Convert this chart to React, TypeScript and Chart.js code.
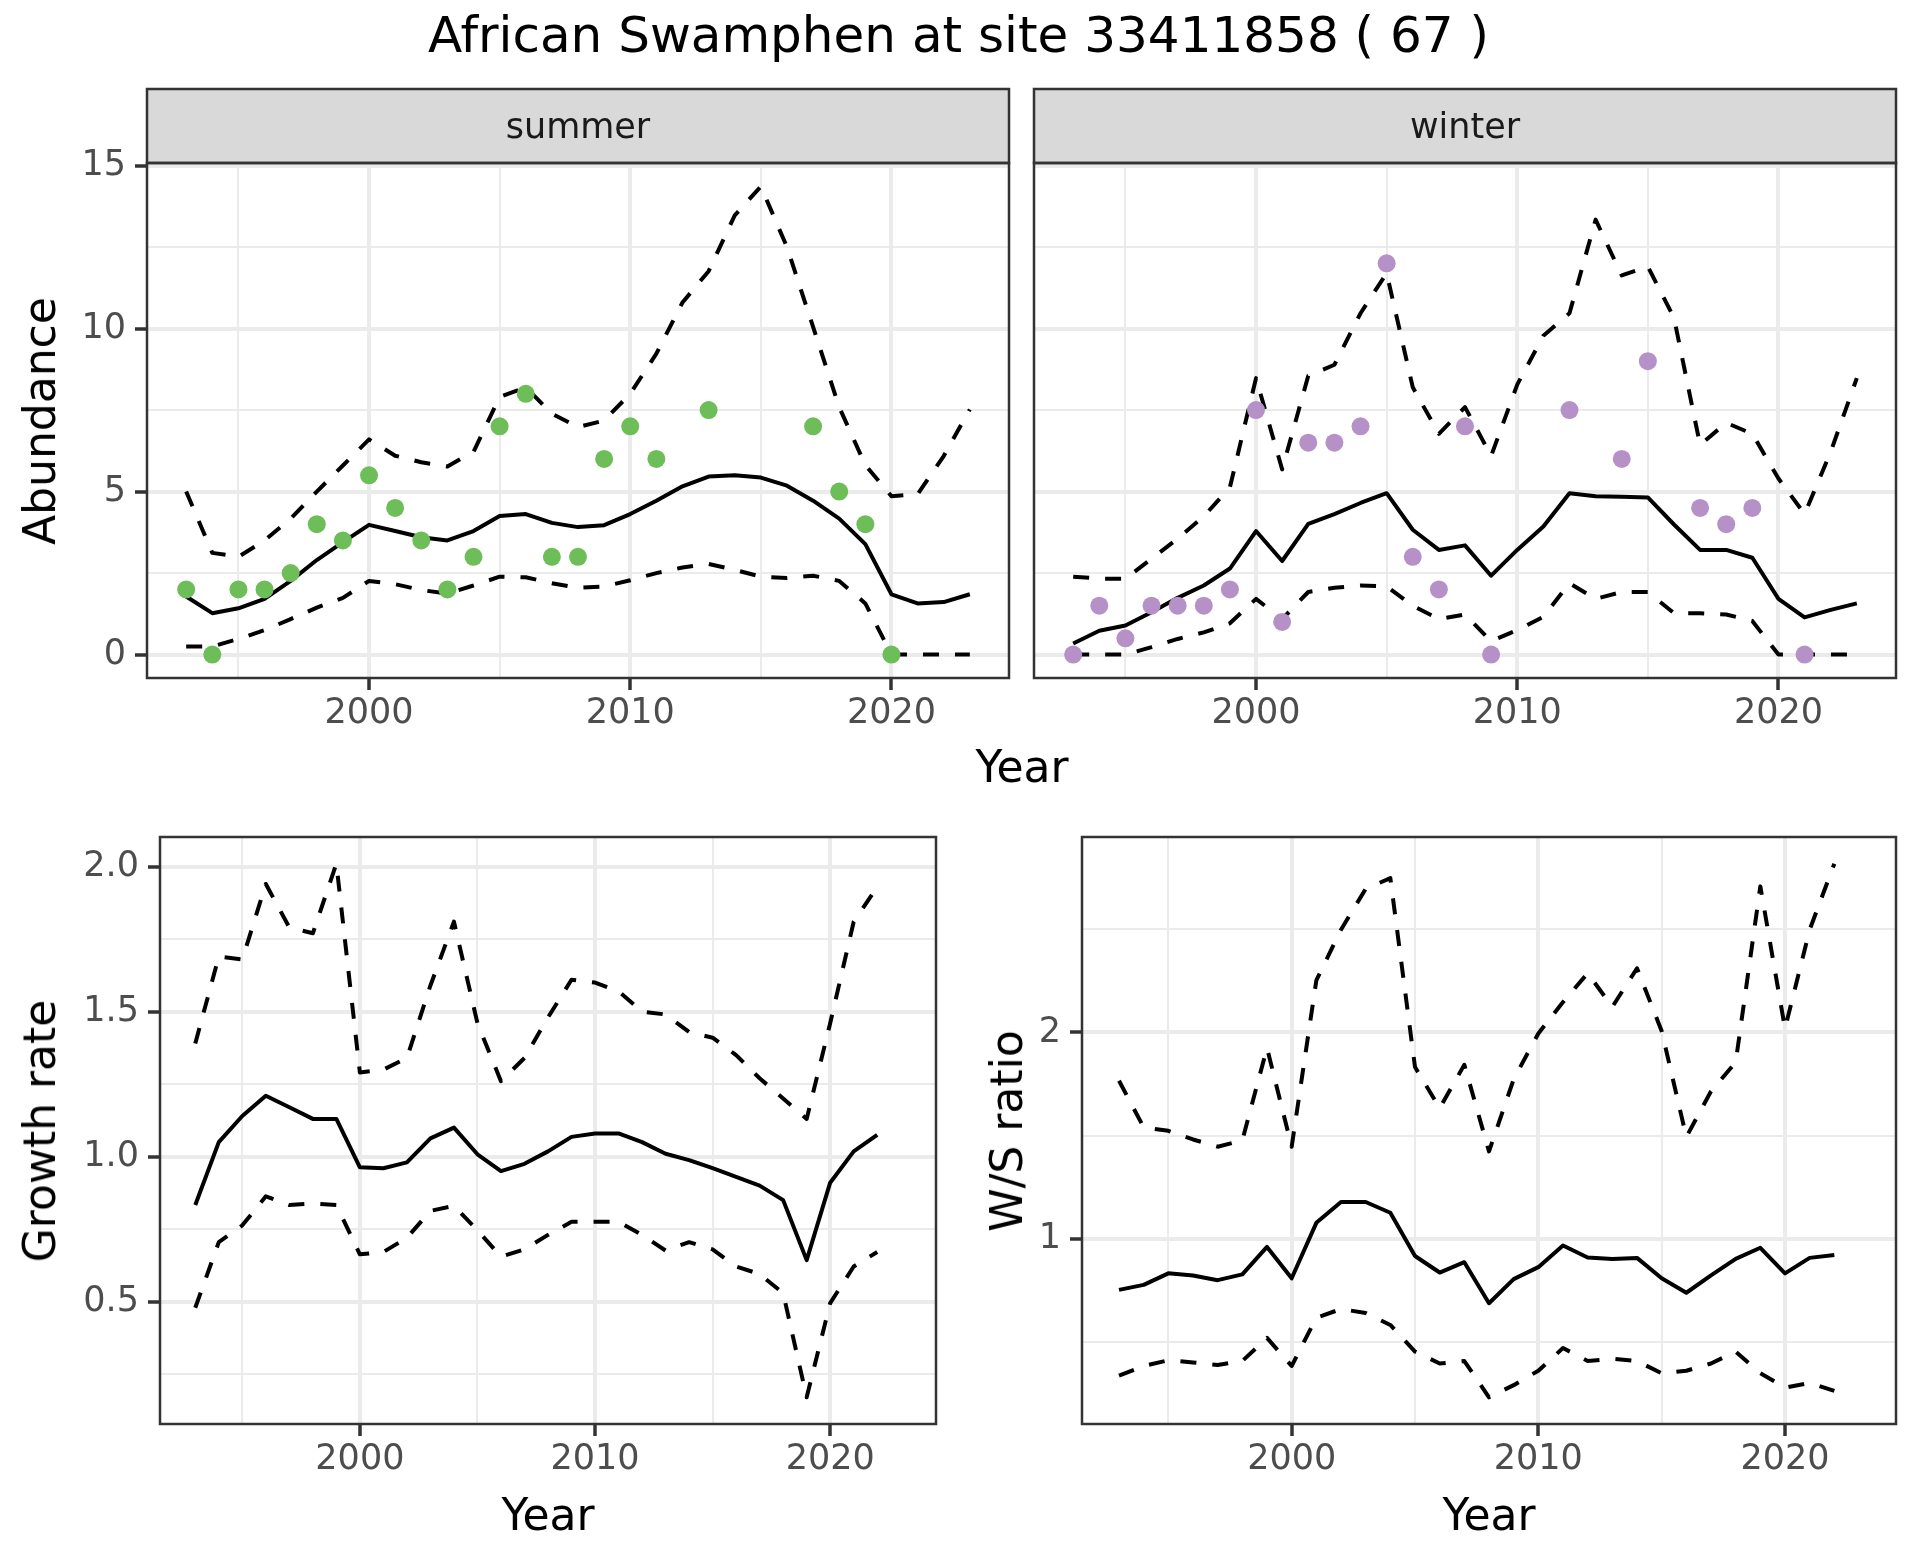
import React, { useEffect, useRef } from 'react';
import { Chart, registerables } from 'chart.js';

Chart.register(...registerables);

const FONT = '"DejaVu Sans", "Liberation Sans", sans-serif';

// ---------- data ----------
const seasonYears = [1993, 1994, 1995, 1996, 1997, 1998, 1999, 2000, 2001, 2002, 2003, 2004, 2005, 2006, 2007, 2008, 2009, 2010, 2011, 2012, 2013, 2014, 2015, 2016, 2017, 2018, 2019, 2020, 2021, 2022, 2023];
const rateYears = [1993, 1994, 1995, 1996, 1997, 1998, 1999, 2000, 2001, 2002, 2003, 2004, 2005, 2006, 2007, 2008, 2009, 2010, 2011, 2012, 2013, 2014, 2015, 2016, 2017, 2018, 2019, 2020, 2021, 2022];

const summerCounts = [2, 0, 2, 2, 2.5, 4, 3.5, 5.5, 4.5, 3.5, 2, 3, 7, 8, 3, 3, 6, 7, 6, null, 7.5, null, null, null, 7, 5, 4, 0, null, null, null];
const summerMean = [1.78, 1.27, 1.42, 1.71, 2.26, 2.9, 3.45, 3.98, 3.79, 3.6, 3.5, 3.79, 4.25, 4.31, 4.04, 3.91, 3.97, 4.31, 4.72, 5.16, 5.46, 5.5, 5.43, 5.18, 4.72, 4.17, 3.39, 1.85, 1.57, 1.61, 1.85];
const summerUpper = [5.0, 3.12, 3.0, 3.5, 4.17, 5.0, 5.8, 6.6, 6.1, 5.9, 5.77, 6.22, 7.9, 8.2, 7.39, 6.98, 7.18, 8.0, 9.23, 10.8, 11.76, 13.47, 14.36, 12.5, 10.05, 7.59, 5.81, 4.86, 4.92, 6.09, 7.52];
const summerLower = [0.25, 0.25, 0.48, 0.75, 1.09, 1.44, 1.74, 2.26, 2.16, 1.98, 1.87, 2.12, 2.39, 2.37, 2.19, 2.05, 2.09, 2.28, 2.5, 2.67, 2.78, 2.6, 2.39, 2.35, 2.42, 2.26, 1.57, 0, 0, 0, 0];

const winterCounts = [0, 1.5, 0.5, 1.5, 1.5, 1.5, 2, 7.5, 1, 6.5, 6.5, 7, 12, 3, 2, 7, 0, null, null, 7.5, null, 6, 9, null, 4.5, 4, 4.5, null, 0, null, null];
const winterMean = [0.34, 0.73, 0.89, 1.3, 1.74, 2.12, 2.64, 3.79, 2.87, 4.01, 4.31, 4.65, 4.95, 3.83, 3.21, 3.35, 2.42, 3.21, 3.93, 4.95, 4.86, 4.84, 4.82, 3.99, 3.21, 3.21, 2.97, 1.71, 1.14, 1.37, 1.57];
const winterUpper = [2.39, 2.33, 2.33, 2.94, 3.56, 4.24, 5.13, 8.48, 5.68, 8.55, 8.89, 10.47, 11.7, 8.2, 6.77, 7.59, 6.09, 8.28, 9.78, 10.47, 13.34, 11.63, 11.9, 10.33, 6.43, 7.11, 6.77, 5.4, 4.31, 6.22, 8.48];
const winterLower = [0, 0, 0, 0.23, 0.48, 0.68, 0.96, 1.71, 1.09, 1.92, 2.05, 2.12, 2.09, 1.5, 1.09, 1.23, 0.41, 0.75, 1.16, 2.19, 1.71, 1.92, 1.92, 1.27, 1.27, 1.23, 1.03, 0, 0, 0, 0];

const growthMean = [0.833, 1.05, 1.14, 1.21, 1.17, 1.13, 1.13, 0.963, 0.96, 0.98, 1.063, 1.1, 1.008, 0.95, 0.975, 1.018, 1.068, 1.08, 1.08, 1.05, 1.01, 0.988, 0.96, 0.93, 0.9, 0.85, 0.643, 0.91, 1.018, 1.075];
const growthUpper = [1.39, 1.69, 1.68, 1.94, 1.79, 1.77, 2.01, 1.29, 1.3, 1.34, 1.59, 1.81, 1.46, 1.26, 1.34, 1.48, 1.61, 1.6, 1.57, 1.5, 1.49, 1.43, 1.41, 1.35, 1.27, 1.2, 1.13, 1.46, 1.81, 1.93];
const growthLower = [0.479, 0.705, 0.763, 0.863, 0.833, 0.838, 0.833, 0.663, 0.671, 0.72, 0.813, 0.83, 0.746, 0.655, 0.68, 0.73, 0.775, 0.775, 0.775, 0.73, 0.676, 0.705, 0.68, 0.621, 0.595, 0.529, 0.17, 0.495, 0.621, 0.671];

const ratioMean = [0.752, 0.776, 0.832, 0.822, 0.799, 0.827, 0.96, 0.808, 1.077, 1.178, 1.178, 1.126, 0.916, 0.836, 0.886, 0.687, 0.804, 0.862, 0.967, 0.909, 0.902, 0.907, 0.808, 0.738, 0.822, 0.902, 0.956, 0.832, 0.907, 0.921];
const ratioUpper = [1.766, 1.54, 1.523, 1.481, 1.446, 1.477, 1.925, 1.446, 2.252, 2.498, 2.696, 2.748, 1.832, 1.633, 1.843, 1.423, 1.773, 1.995, 2.147, 2.287, 2.124, 2.311, 2.007, 1.493, 1.715, 1.855, 2.708, 2.019, 2.498, 2.818];
const ratioLower = [0.336, 0.383, 0.411, 0.4, 0.388, 0.407, 0.519, 0.383, 0.617, 0.659, 0.64, 0.582, 0.453, 0.395, 0.407, 0.231, 0.29, 0.36, 0.47, 0.407, 0.418, 0.407, 0.348, 0.36, 0.395, 0.453, 0.348, 0.278, 0.301, 0.262];

// ---------- ticks ----------
const yearTicks = [1995, 2000, 2005, 2010, 2015, 2020];
const yearMajor = [2000, 2010, 2020];
const yearLabels = ['2000', '2010', '2020'];

const abundanceTicks = [0, 2.5, 5, 7.5, 10, 12.5, 15];
const abundanceMajor = [0, 5, 10, 15];
const abundanceLabels = ['0', '5', '10', '15'];

const growthTicks = [0.25, 0.5, 0.75, 1, 1.25, 1.5, 1.75, 2];
const growthMajor = [0.5, 1, 1.5, 2];
const growthLabels = ['0.5', '1.0', '1.5', '2.0'];

const ratioTicks = [0.5, 1, 1.5, 2, 2.5];
const ratioMajor = [1, 2];
const ratioLabels = ['1', '2'];

const TITLE = 'African Swamphen at site 33411858 ( 67 )';
const SUMMER_COLOR = '#6DBD58';
const WINTER_COLOR = '#B591C8';

type Series = { values: (number | null)[]; kind: 'points' | 'solid' | 'dashed'; color?: string };

interface Area { left: number; top: number; right: number; bottom: number }

interface PanelProps {
  area: Area;
  xs: number[];
  series: Series[];
  yMin: number;
  yMax: number;
  yTicks: number[];
  yMajor: number[];
  yLabels: string[];
  showY: boolean;
  strip?: string;
}

const decoPlugin = {
  id: 'panelDeco',
  afterDatasetsDraw(chart: any, _args: any, opts: any) {
    const { ctx, chartArea: a } = chart;
    ctx.save();
    if (opts.strip) {
      const sh = 74;
      ctx.fillStyle = '#D9D9D9';
      ctx.fillRect(a.left, a.top - sh, a.right - a.left, sh);
      ctx.strokeStyle = '#333333';
      ctx.lineWidth = 2.5;
      ctx.strokeRect(a.left, a.top - sh, a.right - a.left, sh);
      ctx.fillStyle = '#1A1A1A';
      ctx.font = `35px ${FONT}`;
      ctx.textAlign = 'center';
      ctx.textBaseline = 'alphabetic';
      ctx.fillText(opts.strip, (a.left + a.right) / 2, a.top - 25);
    }
    ctx.strokeStyle = '#333333';
    ctx.lineWidth = 2.5;
    ctx.strokeRect(a.left, a.top, a.right - a.left, a.bottom - a.top);
    ctx.restore();
  },
};

function Panel(p: PanelProps) {
  const ref = useRef<HTMLCanvasElement>(null);
  const padTop = p.strip ? 100 : 40;
  const padRight = 40;
  const yW = 140;
  const xH = 90;
  const w = p.area.right - p.area.left + yW + padRight;
  const h = p.area.bottom - p.area.top + padTop + xH;

  useEffect(() => {
    if (!ref.current) return;
    const datasets = p.series.map((s) => {
      const data = p.xs.map((x, i) => ({ x, y: s.values[i] }));
      if (s.kind === 'points') {
        return {
          data,
          showLine: false,
          pointRadius: 9,
          pointHoverRadius: 9,
          pointBorderWidth: 0,
          pointBackgroundColor: s.color,
          borderWidth: 0,
        };
      }
      return {
        data,
        borderColor: '#000000',
        borderWidth: 4,
        borderDash: s.kind === 'dashed' ? [16, 16] : [],
        borderCapStyle: 'butt',
        borderJoinStyle: 'round',
        pointRadius: 0,
        tension: 0,
        fill: false,
      };
    });

    const isIn = (arr: number[], v: any) => arr.indexOf(v) >= 0;

    const chart = new Chart(ref.current, {
      type: 'line',
      data: { datasets: datasets as any },
      plugins: [decoPlugin as any],
      options: {
        animation: false,
        responsive: false,
        devicePixelRatio: 1,
        events: [],
        layout: { padding: { top: padTop, right: padRight, left: 0, bottom: 0 } },
        plugins: {
          legend: { display: false },
          tooltip: { enabled: false },
          panelDeco: { strip: p.strip },
        } as any,
        scales: {
          x: {
            type: 'linear',
            min: 1991.5,
            max: 2024.5,
            afterBuildTicks: (s: any) => {
              s.ticks = yearTicks.map((v) => ({ value: v }));
            },
            afterFit: (s: any) => {
              s.height = xH;
            },
            border: { display: false },
            grid: {
              color: '#EBEBEB',
              lineWidth: (c: any) => (c.tick && isIn(yearMajor, c.tick.value) ? 4 : 2),
              drawTicks: true,
              tickLength: 12,
              tickWidth: 3.5,
              tickColor: (c: any) => (c.tick && isIn(yearMajor, c.tick.value) ? '#333333' : 'rgba(0,0,0,0)'),
            },
            ticks: {
              autoSkip: false,
              maxRotation: 0,
              minRotation: 0,
              padding: 3,
              color: '#4D4D4D',
              font: { family: FONT, size: 35 },
              callback: (v: any) => {
                const i = yearMajor.indexOf(v);
                return i >= 0 ? yearLabels[i] : '';
              },
            },
          },
          y: {
            type: 'linear',
            min: p.yMin,
            max: p.yMax,
            afterBuildTicks: (s: any) => {
              s.ticks = p.yTicks.map((v) => ({ value: v }));
            },
            afterFit: (s: any) => {
              s.width = yW;
            },
            border: { display: false },
            grid: {
              color: '#EBEBEB',
              lineWidth: (c: any) => (c.tick && isIn(p.yMajor, c.tick.value) ? 4 : 2),
              drawTicks: p.showY,
              tickLength: 12,
              tickWidth: 3.5,
              tickColor: (c: any) => (c.tick && isIn(p.yMajor, c.tick.value) ? '#333333' : 'rgba(0,0,0,0)'),
            },
            ticks: {
              display: p.showY,
              autoSkip: false,
              padding: 9,
              color: '#4D4D4D',
              font: { family: FONT, size: 35 },
              callback: (v: any) => {
                const i = p.yMajor.indexOf(v);
                return i >= 0 ? p.yLabels[i] : '';
              },
            },
          },
        },
      } as any,
    });
    return () => chart.destroy();
  }, []);

  return (
    <canvas
      ref={ref}
      width={w}
      height={h}
      style={{ position: 'absolute', left: p.area.left - yW, top: p.area.top - padTop, width: w, height: h }}
    />
  );
}

function Text(props: { x: number; baseline: number; size: number; text: string; color?: string }) {
  const { x, baseline, size, text, color } = props;
  return (
    <div
      style={{
        position: 'absolute',
        left: x - 1000,
        width: 2000,
        top: baseline - 0.846 * size,
        fontSize: size,
        lineHeight: `${size}px`,
        fontFamily: FONT,
        color: color || '#000000',
        textAlign: 'center',
        whiteSpace: 'nowrap',
      }}
    >
      {text}
    </div>
  );
}

function VText(props: { cx: number; cy: number; size: number; text: string }) {
  const { cx, cy, size, text } = props;
  return (
    <div
      style={{
        position: 'absolute',
        left: cx,
        top: cy,
        transform: 'translate(-50%, -50%) rotate(-90deg)',
        fontSize: size,
        lineHeight: `${size}px`,
        fontFamily: FONT,
        color: '#000000',
        whiteSpace: 'nowrap',
      }}
    >
      {text}
    </div>
  );
}

export default function App() {
  const TL: Area = { left: 147, top: 163, right: 1009, bottom: 678 };
  const TR: Area = { left: 1034, top: 163, right: 1896, bottom: 678 };
  const BL: Area = { left: 160, top: 837, right: 936, bottom: 1424 };
  const BR: Area = { left: 1082, top: 837, right: 1896, bottom: 1424 };

  return (
    <div style={{ position: 'absolute', left: 0, top: 0, width: 1920, height: 1560, background: '#FFFFFF', overflow: 'hidden' }}>
      <Panel
        area={TL}
        xs={seasonYears}
        series={[
          { values: summerCounts, kind: 'points', color: SUMMER_COLOR },
          { values: summerMean, kind: 'solid' },
          { values: summerUpper, kind: 'dashed' },
          { values: summerLower, kind: 'dashed' },
        ]}
        yMin={-0.718}
        yMax={15.078}
        yTicks={abundanceTicks}
        yMajor={abundanceMajor}
        yLabels={abundanceLabels}
        showY={true}
        strip="summer"
      />
      <Panel
        area={TR}
        xs={seasonYears}
        series={[
          { values: winterCounts, kind: 'points', color: WINTER_COLOR },
          { values: winterMean, kind: 'solid' },
          { values: winterUpper, kind: 'dashed' },
          { values: winterLower, kind: 'dashed' },
        ]}
        yMin={-0.718}
        yMax={15.078}
        yTicks={abundanceTicks}
        yMajor={abundanceMajor}
        yLabels={abundanceLabels}
        showY={false}
        strip="winter"
      />
      <Panel
        area={BL}
        xs={rateYears}
        series={[
          { values: growthMean, kind: 'solid' },
          { values: growthUpper, kind: 'dashed' },
          { values: growthLower, kind: 'dashed' },
        ]}
        yMin={0.078}
        yMax={2.102}
        yTicks={growthTicks}
        yMajor={growthMajor}
        yLabels={growthLabels}
        showY={true}
      />
      <Panel
        area={BR}
        xs={rateYears}
        series={[
          { values: ratioMean, kind: 'solid' },
          { values: ratioUpper, kind: 'dashed' },
          { values: ratioLower, kind: 'dashed' },
        ]}
        yMin={0.1017}
        yMax={2.9474}
        yTicks={ratioTicks}
        yMajor={ratioMajor}
        yLabels={ratioLabels}
        showY={true}
      />

      <Text x={958.5} baseline={52} size={50} text={TITLE} />
      <Text x={1022} baseline={782} size={44} text="Year" />
      <Text x={548} baseline={1530} size={44} text="Year" />
      <Text x={1489} baseline={1530} size={44} text="Year" />
      <VText cx={40} cy={420.5} size={44} text="Abundance" />
      <VText cx={40} cy={1130.5} size={44} text="Growth rate" />
      <VText cx={1007} cy={1130.5} size={44} text="W/S ratio" />
    </div>
  );
}
